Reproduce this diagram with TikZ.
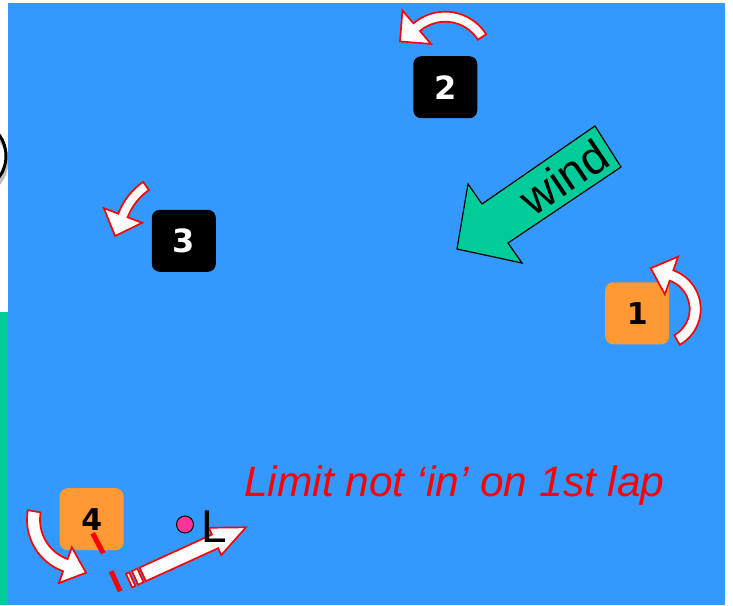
\documentclass[tikz,border=0pt]{standalone}
\usepackage{fontspec}
\setmainfont{Liberation Sans}
\newfontfamily\vfont{DejaVu Sans}
\usetikzlibrary{calc}
\definecolor{skyb}{RGB}{51,153,255}
\definecolor{windg}{RGB}{0,204,153}
\definecolor{orng}{RGB}{255,153,51}
\definecolor{pinkd}{RGB}{255,51,153}
\tikzset{
 curarr/.style={fill=white, draw=red, line width=1.7pt, line join=miter},
 numbox/.style={rounded corners=8pt, minimum width=64pt, minimum height=62pt, inner sep=0pt},
 blackbox/.style={numbox, fill=black, text=white, font=\vfont\bfseries\fontsize{32}{32}\selectfont},
 orangebox/.style={numbox, fill=orng, text=black, font=\vfont\bfseries\fontsize{30}{30}\selectfont},
 redmark/.style={draw=red, line width=5pt},
}
% curved block arrow: centre, radius, start angle, end angle, shaft width, head width, head length
\newcommand{\curvarr}[7]{%
  \filldraw[curarr] ($#1+({#3}:{#2+#5/2})$) arc[start angle={#3}, end angle={#4}, radius={#2+#5/2}]
   -- ($#1+({#4}:{#2+#6/2})$) -- ($#1+({#4}:{#2})+({#4-90}:{#7})$) -- ($#1+({#4}:{#2-#6/2})$)
   -- ($#1+({#4}:{#2-#5/2})$) arc[start angle={#4}, end angle={#3}, radius={#2-#5/2}] -- cycle;}
\begin{document}
\begin{tikzpicture}[x=1pt,y=-1pt]
\useasboundingbox (0,0) rectangle (733,605);
% left edge remnants
\draw[gray!50, line width=3pt] (-29,161) circle[radius=36];
\draw[black, line width=3pt] (-30,156) circle[radius=36];
\fill[windg] (0,312) rectangle (8,605);
% blue field
\fill[skyb] (8,3) rectangle (725,605);
% wind arrow
\coordinate (w1) at (595,126);
\coordinate (w2) at (621,167);
\coordinate (w3) at (508,243);
\coordinate (w4) at (522,263);
\coordinate (w5) at (457,249);
\coordinate (w6) at (468,184);
\coordinate (w7) at (482,204);
\filldraw[fill=windg, draw=black, line width=1.2pt, line join=miter] (w1)--(w2)--(w3)--(w4)--(w5)--(w6)--(w7)--cycle;
\node[rotate=34, font=\fontsize{46}{46}\selectfont, inner sep=0pt] (windt) at (564,177) {wind};
% marks
\node[orangebox] (b1) at (637.2,313.3) {1};
\node[blackbox] (b2) at (445.3,87.2) {2};
\node[blackbox] (b3) at (183.8,240.8) {3};
\node[orangebox] (b4) at (91.7,519.2) {4};
% rounding arrows
\curvarr{(659.7,309)}{35.5}{60.8}{-70.6}{11}{40}{22}
\curvarr{(445.1,60.4)}{43.7}{-32.4}{-130.5}{10}{44}{22}
\curvarr{(182.7,238.4)}{64}{235}{201}{10}{41}{22}
\curvarr{(81.9,519.7)}{48.4}{190}{110}{13}{38}{22}
% start/finish line marks
\coordinate (r1a) at (92.7,533.3);
\coordinate (r1b) at (103.3,553.3);
\draw[redmark] (r1a) -- (r1b);
% striped arrow towards finish
\begin{scope}[shift={(246,527.3)}, rotate=24.5]
  \filldraw[curarr] (0,0) -- (-34,-15) -- (-34,-7.5) -- (-113.5,-7.5) -- (-113.5,7.5) -- (-34,7.5) -- (-34,15) -- cycle;
  \filldraw[curarr] (-116,-7.5) rectangle (-122,7.5);
  \filldraw[curarr] (-125,-7.5) rectangle (-128.5,7.5);
  \coordinate (r2a) at (-141,-16);
  \coordinate (r2b) at (-141,6);
  \draw[redmark] (r2a) -- (r2b);
\end{scope}
% limit mark
\node[circle, fill=pinkd, draw=black, line width=1pt, minimum size=17pt, inner sep=0pt] (ldot) at (185,524.5) {};
\node[anchor=base west, inner sep=0pt, font=\fontsize{46}{46}\selectfont] (Lt) at (201,542.7) {L};
\node[anchor=base west, inner sep=0pt, text=red, font=\itshape\fontsize{42.5}{42.5}\selectfont] (lim) at (244,496.7) {Limit not ‘in’ on 1st lap};
\end{tikzpicture}
\end{document}
